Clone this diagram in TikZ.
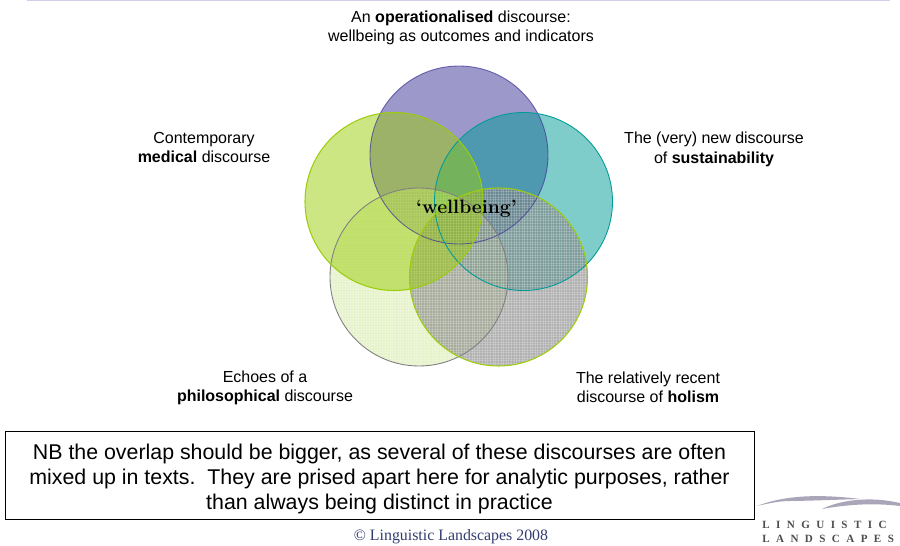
\documentclass[tikz,border=0pt]{standalone}
\usepackage{fontspec}
\usepackage{tikz}
\usetikzlibrary{patterns.meta}
\newfontfamily\labelfont{Liberation Sans}
\newfontfamily\footfont{Liberation Serif}
\newfontfamily\logofont[LetterSpace=58]{Liberation Serif}
\definecolor{rulecol}{RGB}{210,205,235}
\definecolor{purplecol}{RGB}{60,50,150}
\definecolor{tealcol}{RGB}{0,155,150}
\definecolor{greencol}{RGB}{155,205,10}
\definecolor{palecol}{RGB}{205,230,150}
\definecolor{greycol}{RGB}{125,125,125}
\definecolor{footcol}{RGB}{50,60,110}
\definecolor{swooshcol}{RGB}{170,165,185}
\tikzset{
  discourse/.style={font=\labelfont\fontsize{9.1}{11}\selectfont, align=center},
  ditherh/.style={pattern={Lines[angle=0,distance=1.5pt,line width=0.35pt]}, pattern color=white, opacity=0.2},
  ditherv/.style={pattern={Lines[angle=90,distance=1.5pt,line width=0.35pt]}, pattern color=white, opacity=0.2}
}

\begin{document}
\begin{tikzpicture}
  \useasboundingbox (0, 0) rectangle (18, 10.9);
  \draw [rulecol, line width=0.6pt] (0.54, 10.89) -- (17.8, 10.89);

  % circles
  \fill [purplecol, opacity=0.5] (9.18, 7.8) circle (1.78cm);
  \fill [tealcol, opacity=0.5] (10.47, 6.87) circle (1.78cm);
  \fill [palecol, opacity=0.5] (8.38, 5.36) circle (1.78cm);
  \path [ditherh] (8.38, 5.36) circle (1.78cm);
  \path [ditherv] (8.38, 5.36) circle (1.78cm);
  \fill [greycol, opacity=0.6] (9.97, 5.36) circle (1.78cm);
  \path [ditherh] (9.97, 5.36) circle (1.78cm);
  \path [ditherv] (9.97, 5.36) circle (1.78cm);
  \fill [greencol, opacity=0.5] (7.88, 6.87) circle (1.78cm);

  % outlines
  \draw [purplecol, opacity=0.7, line width=0.5pt] (9.18, 7.8) circle (1.78cm);
  \draw [tealcol, line width=0.5pt] (10.47, 6.87) circle (1.78cm);
  \draw [gray, line width=0.5pt] (8.38, 5.36) circle (1.78cm);
  \draw [greencol, line width=0.6pt] (9.97, 5.36) circle (1.78cm);
  \draw [greencol, line width=0.6pt] (7.88, 6.87) circle (1.78cm);

  \node (wellbeing) at (9.33, 6.72) {\fontsize{11}{12}\selectfont\bfseries `wellbeing'};

  \node [discourse] (operational) at (9.22, 10.34) {An \textbf{operationalised} discourse:\\wellbeing as outcomes and indicators};
  \node [discourse] (medical) at (4.08, 7.95) {Contemporary\\\textbf{medical} discourse};
  \node [discourse] (sustain) at (14.28, 7.91) {The (very) new discourse\\of \textbf{sustainability}};
  \node [discourse] (philosoph) at (5.3, 3.14) {Echoes of a\\\textbf{philosophical} discourse};
  \node [discourse] (holism) at (12.96, 3.15) {The relatively recent\\discourse of \textbf{holism}};

  \node [draw, line width=0.5pt, minimum width=14.98cm, minimum height=1.76cm, inner sep=0pt,
         font=\labelfont\fontsize{12.15}{14.2}\selectfont, align=center] (note) at (7.59, 1.4)
        {\rule{0pt}{13.5pt}NB the overlap should be bigger, as several of these discourses are often\\
         mixed up in texts.\ \ They are prised apart here for analytic purposes, rather\\
         than always being distinct in practice};

  \node [font=\footfont\fontsize{9.03}{10}\selectfont, text=footcol] (copyright) at (9.02, 0.16) {© Linguistic Landscapes 2008};

  % logo
  \fill [swooshcol] (15.14, 0.78) .. controls (15.7, 1.0) and (16.4, 1.02) .. (17.2, 0.92)
    .. controls (16.6, 0.9) and (16.0, 0.88) .. (15.8, 0.88) .. controls (15.6, 0.88) and (15.4, 0.84) .. (15.14, 0.78) -- cycle;
  \fill [swooshcol] (16.44, 0.72) .. controls (16.8, 0.9) and (17.4, 0.98) .. (18, 0.84)
    -- (18, 0.78) .. controls (17.5, 0.84) and (17, 0.82) .. (16.44, 0.72) -- cycle;
  \node [anchor=base west, inner sep=0pt, text=black!70, font=\logofont\bfseries\fontsize{6.3}{7}\selectfont] (logoa) at (15.24, 0.34) {LINGUISTIC};
  \node [anchor=base west, inner sep=0pt, text=black!70, font=\logofont\bfseries\fontsize{6.3}{7}\selectfont] (logob) at (15.24, 0.05) {LANDSCAPES};

\end{tikzpicture}
\end{document}
